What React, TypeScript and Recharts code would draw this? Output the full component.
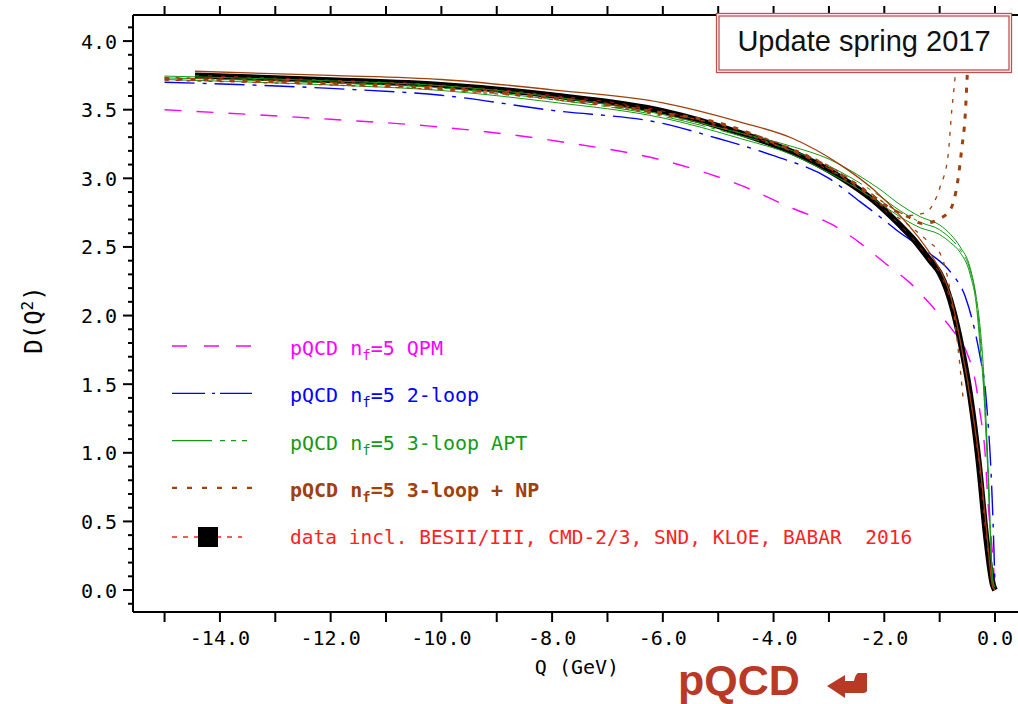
import React from "react";
import { LineChart, Line, XAxis, YAxis } from "recharts";

// Adler function D(Q^2) vs Q (GeV).
const qpmQ = [-15, -12, -10.2, -7.9, -5.8, -4.6, -3.65, -2.93, -2.44, -1.95, -1.54, -1.12, -0.76, -0.51, -0.36, -0.27, -0.18, -0.13, -0.05, 0];
const qpmD = [3.5, 3.43, 3.38, 3.27, 3.11, 2.95, 2.78, 2.66, 2.53, 2.37, 2.24, 2.06, 1.89, 1.73, 1.53, 1.29, 1.0, 0.66, 0.29, 0.02];

const twoLoopQ = [-15, -12, -10, -8, -6, -5, -4, -3, -2.44, -2.08, -1.77, -1.17, -0.81, -0.54, -0.4, -0.27, -0.18, -0.13, -0.09, -0.05, -0.02, 0];
const twoLoopD = [3.7, 3.655, 3.605, 3.495, 3.4, 3.29, 3.165, 3.0, 2.83, 2.72, 2.62, 2.45, 2.32, 2.14, 1.95, 1.7, 1.48, 1.24, 1.0, 0.65, 0.3, 0.03];

const aptQ = [-15, -12, -10, -8, -6, -4.6, -3.65, -3, -2.5, -2.08, -1.72, -1.35, -1.0, -0.8, -0.63, -0.45, -0.33, -0.27, -0.22, -0.13, -0.04, 0];
const aptUpD = [3.745, 3.71, 3.675, 3.595, 3.465, 3.33, 3.23, 3.14, 3.03, 2.92, 2.81, 2.72, 2.66, 2.59, 2.5, 2.35, 2.11, 1.92, 1.68, 0.95, 0.08, 0.02];
const aptMidD = [3.732, 3.695, 3.658, 3.575, 3.452, 3.31, 3.2, 3.09, 2.98, 2.87, 2.765, 2.68, 2.625, 2.56, 2.48, 2.33, 2.09, 1.85, 1.6, 0.9, 0.07, 0.02];
const aptLowD = [3.72, 3.68, 3.64, 3.555, 3.44, 3.29, 3.17, 3.04, 2.93, 2.82, 2.72, 2.64, 2.59, 2.53, 2.46, 2.3, 2.05, 1.78, 1.55, 0.86, 0.05, 0.02];

const npQ = [-15, -12, -10, -8, -6, -5, -4, -3, -2.31, -1.84, -1.57, -1.3, -1.03, -0.81, -0.67, -0.6, -0.54, -0.51, -0.48, -0.45];
const npD = [3.725, 3.69, 3.655, 3.585, 3.475, 3.405, 3.26, 3.08, 2.9, 2.77, 2.72, 2.67, 2.7, 2.77, 2.99, 3.22, 3.45, 3.68, 3.95, 4.25];
const npUpQ = [-15, -12, -10, -8, -6, -4, -3, -2.31, -1.84, -1.57, -1.26, -0.99, -0.85, -0.78, -0.72, -0.68, -0.65];
const npUpD = [3.735, 3.7, 3.665, 3.595, 3.48, 3.27, 3.09, 2.91, 2.78, 2.73, 2.75, 2.94, 3.16, 3.5, 3.75, 4.0, 4.25];
const npLowQ = [-15, -12, -10, -8, -6, -4, -3, -2.31, -1.84, -1.5, -1.21, -0.99, -0.9, -0.78, -0.67, -0.58];
const npLowD = [3.715, 3.68, 3.645, 3.575, 3.46, 3.25, 3.07, 2.88, 2.74, 2.64, 2.54, 2.45, 2.35, 2.11, 1.77, 1.41];

const dataQ = [-14.45, -12, -10, -8, -6, -4.6, -3.65, -2.8, -2.2, -1.72, -1.48, -1.17, -1.0, -0.87, -0.75, -0.63, -0.45, -0.3, -0.15, -0.04, 0];
const dataD = [3.75, 3.715, 3.68, 3.605, 3.49, 3.33, 3.19, 3.01, 2.84, 2.66, 2.56, 2.4, 2.31, 2.19, 2.03, 1.82, 1.42, 0.95, 0.35, 0.04, 0];
const dataUpQ = [-14.45, -12, -10, -8, -6, -4.6, -3.65, -2.8, -2.2, -1.72, -1.12, -0.95, -0.8, -0.63, -0.4, -0.27, -0.15, -0.04, 0];
const dataUpD = [3.78, 3.75, 3.72, 3.645, 3.55, 3.41, 3.29, 3.1, 2.92, 2.73, 2.42, 2.3, 2.14, 1.82, 1.28, 0.9, 0.42, 0.02, 0];

const xTicks = [-15, -14, -13, -12, -11, -10, -9, -8, -7, -6, -5, -4, -3, -2, -1, 0];
const yTicks = [
  -0.1, 0, 0.1, 0.2, 0.3, 0.4, 0.5, 0.6, 0.7, 0.8, 0.9, 1.0, 1.1, 1.2, 1.3, 1.4, 1.5, 1.6, 1.7, 1.8, 1.9, 2.0, 2.1,
  2.2, 2.3, 2.4, 2.5, 2.6, 2.7, 2.8, 2.9, 3.0, 3.1, 3.2, 3.3, 3.4, 3.5, 3.6, 3.7, 3.8, 3.9, 4.0, 4.1,
];

const MAGENTA = "#ff00ff";
const BLUE = "#0000ff";
const GREEN = "#159a15";
const BROWN = "#a0400c";
const RED = "#ff2222";
const MONO = "'DejaVu Sans Mono', monospace";

const pts = (q: number[], d: number[]) => q.map((v, i) => ({ q: v, d: d[i] }));

const isMajor = (v: number) => Math.abs(v * 2 - Math.round(v * 2)) < 1e-6;

const LeftTick = (props: any) => {
  const { x, y, payload } = props;
  const v = payload.value as number;
  const major = isMajor(v) && v >= 0 && v <= 4;
  return (
    <g>
      <line x1={x - (major ? 10 : 5)} x2={x} y1={y} y2={y} stroke="#000" strokeWidth={2} />
      {major && (
        <text x={x - 16} y={y + 7.5} textAnchor="end" fontFamily={MONO} fontSize={20} fill="#000">
          {v.toFixed(1)}
        </text>
      )}
    </g>
  );
};

const BottomTick = (props: any) => {
  const { x, y, payload } = props;
  const v = payload.value as number;
  return (
    <g>
      <line x1={x} x2={x} y1={y} y2={y + 10} stroke="#000" strokeWidth={2} />
      {v % 2 === 0 && (
        <text x={x} y={y + 33} textAnchor="middle" fontFamily={MONO} fontSize={20} fill="#000">
          {v.toFixed(1)}
        </text>
      )}
    </g>
  );
};

const TopTick = (props: any) => {
  const { x, y } = props;
  return <line x1={x} x2={x} y1={y - 9} y2={y} stroke="#000" strokeWidth={2} />;
};

const legendRows = [
  { color: MAGENTA, label: "QPM", dash: "15 17", width: 1.3, bold: false },
  { color: BLUE, label: "2-loop", dash: "33 7 3 5", width: 1.3, bold: false },
  { color: GREEN, label: "3-loop APT", dash: "40 8 5 6 5 6 5", width: 1.3, bold: false },
  { color: BROWN, label: "3-loop + NP", dash: "5 10", width: 2.2, bold: true },
];

const Overlay = () => (
  <svg width={1018} height={704} style={{ position: "absolute", left: 0, top: 0, pointerEvents: "none" }}>
    {/* legend */}
    {legendRows.map((r, i) => {
      const base = 355 + i * 47.3;
      return (
        <g key={r.label}>
          <line x1={172} x2={252} y1={base - 9} y2={base - 9} stroke={r.color} strokeWidth={r.width} strokeDasharray={r.dash} />
          <text x={290} y={base} fontFamily={MONO} fontSize={20} fill={r.color} fontWeight={r.bold ? "bold" : "normal"}>
            pQCD n<tspan dy={5} fontSize={14}>f</tspan>
            <tspan dy={-5}>=5 {r.label}</tspan>
          </text>
        </g>
      );
    })}
    <line x1={172} x2={242} y1={537} y2={537} stroke={RED} strokeWidth={1.3} strokeDasharray="5 6" />
    <rect x={198} y={527} width={20} height={20} fill="#000" />
    <text x={290} y={544} fontFamily={MONO} fontSize={19.5} fill={RED}>
      data incl. BESII/III, CMD-2/3, SND, KLOE, BABAR{"\u00a0\u00a0"}2016
    </text>

    {/* update box */}
    <rect x={716.5} y={13.5} width={295} height={59} fill="#fff" stroke="#c0504d" strokeWidth={1.3} />
    <rect x={719} y={16} width={290} height={54} fill="none" stroke="#c0504d" strokeWidth={1.3} />
    <text x={864} y={51} textAnchor="middle" fontFamily="'Liberation Sans', Arial, sans-serif" fontSize={29} fill="#111">
      Update spring 2017
    </text>

    {/* axis titles */}
    <text x={577} y={674} textAnchor="middle" fontFamily={MONO} fontSize={20} fill="#000">
      Q (GeV)
    </text>
    <text x={42} y={320} transform="rotate(-90 42 320)" textAnchor="middle" fontFamily={MONO} fontSize={24} fill="#000">
      D(Q<tspan dy={-9} fontSize={16}>2</tspan>
      <tspan dy={9}>)</tspan>
    </text>

    {/* pQCD arrow annotation */}
    <text x={678} y={695} fontFamily="'Liberation Sans', Arial, sans-serif" fontWeight="bold" fontSize={43} fill="#b83a26">
      pQCD
    </text>
    <path d="M827,686 L845,675 L845,681 L854,681 Q855,675 858,673 L867,673 L867,691 Q866,693 862,693 L845,693 L845,698 Z" fill="#b83a26" />
  </svg>
);

const App: React.FC = () => {
  return (
    <div style={{ position: "absolute", left: 0, top: 0, width: 1018, height: 704, background: "#fff" }}>
      <LineChart width={1018} height={704} margin={{ top: 0, right: 0, bottom: 32, left: 73 }}>
        <XAxis
          dataKey="q"
          type="number"
          domain={[-15.57, 0.415]}
          allowDataOverflow
          ticks={xTicks}
          interval={0}
          height={60}
          tickSize={0}
          tickMargin={0}
          tick={<BottomTick />}
          axisLine={{ stroke: "#000", strokeWidth: 2 }}
          tickLine={false}
        />
        <XAxis
          xAxisId="top"
          orientation="top"
          dataKey="q"
          type="number"
          domain={[-15.57, 0.415]}
          allowDataOverflow
          ticks={xTicks}
          interval={0}
          height={15}
          tickSize={0}
          tickMargin={0}
          tick={<TopTick />}
          axisLine={{ stroke: "#000", strokeWidth: 2 }}
          tickLine={false}
        />
        <YAxis
          dataKey="d"
          type="number"
          domain={[-0.16, 4.19]}
          allowDataOverflow
          ticks={yTicks}
          interval={0}
          width={60}
          tickSize={0}
          tickMargin={0}
          tick={<LeftTick />}
          axisLine={{ stroke: "#000", strokeWidth: 2 }}
          tickLine={false}
        />
        <Line data={pts(qpmQ, qpmD)} dataKey="d" name="qpm" type="monotone" stroke={MAGENTA} strokeWidth={1.4} strokeDasharray="17 15" dot={false} isAnimationActive={false} />
        <Line data={pts(twoLoopQ, twoLoopD)} dataKey="d" name="2-loop" type="monotone" stroke={BLUE} strokeWidth={1.4} strokeDasharray="30 8 4 8" dot={false} isAnimationActive={false} />
        <Line data={pts(dataQ, dataD)} dataKey="d" name="data" type="monotone" stroke="#000" strokeWidth={6} dot={false} isAnimationActive={false} />
        <Line data={pts(dataQ, dataD)} dataKey="d" name="data-centre" type="monotone" stroke={RED} strokeWidth={1} strokeDasharray="4 9" strokeOpacity={0.7} dot={false} isAnimationActive={false} />
        <Line data={pts(aptQ, aptUpD)} dataKey="d" name="apt-up" type="monotone" stroke={GREEN} strokeWidth={1} dot={false} isAnimationActive={false} />
        <Line data={pts(aptQ, aptMidD)} dataKey="d" name="apt" type="monotone" stroke={GREEN} strokeWidth={1} strokeDasharray="40 6 4 6" dot={false} isAnimationActive={false} />
        <Line data={pts(aptQ, aptLowD)} dataKey="d" name="apt-low" type="monotone" stroke={GREEN} strokeWidth={1} dot={false} isAnimationActive={false} />
        <Line data={pts(npUpQ, npUpD)} dataKey="d" name="np-up" type="monotone" stroke={BROWN} strokeWidth={1.3} strokeDasharray="4 7" dot={false} isAnimationActive={false} />
        <Line data={pts(npLowQ, npLowD)} dataKey="d" name="np-low" type="monotone" stroke={BROWN} strokeWidth={1.3} strokeDasharray="4 7" dot={false} isAnimationActive={false} />
        <Line data={pts(npQ, npD)} dataKey="d" name="np" type="monotone" stroke={BROWN} strokeWidth={3} strokeDasharray="5 8" dot={false} isAnimationActive={false} />
        <Line data={pts(dataUpQ, dataUpD)} dataKey="d" name="data-up" type="monotone" stroke={BROWN} strokeWidth={1.3} dot={false} isAnimationActive={false} />
      </LineChart>
      <Overlay />
    </div>
  );
};

export default App;
